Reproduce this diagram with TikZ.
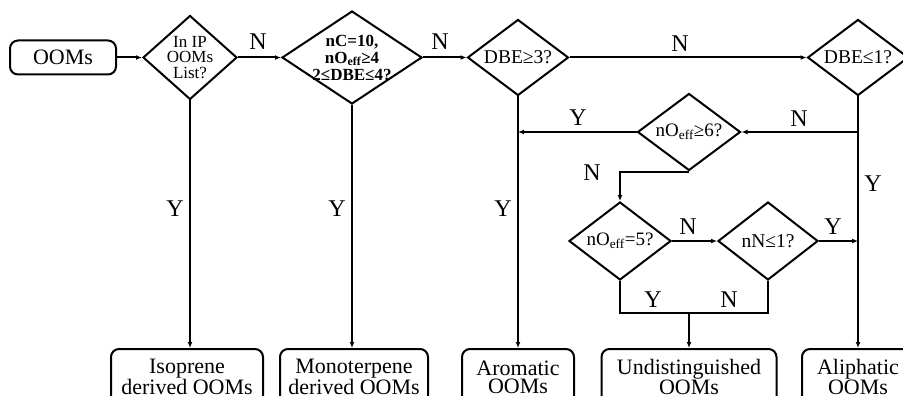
\documentclass[tikz,border=0pt]{standalone}
\usepackage{fontspec}
\setmainfont{Liberation Serif}
\usetikzlibrary{shapes.geometric,arrows.meta}
\begin{document}
\begin{tikzpicture}[x=1pt,y=-1pt,
  dia/.style={diamond,draw,line width=2pt,inner sep=0pt},
  dtext/.style={align=center,inner sep=0pt},
  rbox/.style={rectangle,draw,line width=2pt,rounded corners=8pt,inner sep=0pt,align=center,font=\fontsize{22}{18}\selectfont},
  conn/.style={line width=2pt},
  arr/.style={line width=2pt,-{Latex[length=6pt,width=5pt]}},
  lbl/.style={font=\fontsize{24}{24}\selectfont,inner sep=0pt}]
\useasboundingbox (0,0) rectangle (903,396);
\clip (0,0) rectangle (903,396);
% start box
\node[rbox,minimum width=106pt,minimum height=34pt] (ooms) at (63,57.5) {OOMs};
% diamonds (fixed size, text as centred label)
\node[dia,minimum width=94pt,minimum height=84pt,
  label={[dtext,font=\fontsize{17}{15.5}\selectfont]center:In IP\\OOMs\\List?}] (d1) at (190,57.5) {};
\node[dia,minimum width=140pt,minimum height=93pt,
  label={[dtext,font=\bfseries\fontsize{17}{17}\selectfont]center:nC=10,\\nO\textsubscript{eff}≥4\\2≤DBE≤4?}] (d2) at (352,57.5) {};
\node[dia,minimum width=101pt,minimum height=76pt,
  label={[dtext,font=\fontsize{19.5}{20}\selectfont]center:DBE≥3?}] (d3) at (518,57.5) {};
\node[dia,minimum width=101pt,minimum height=76pt,
  label={[dtext,font=\fontsize{19.5}{20}\selectfont]center:DBE≤1?}] (d4) at (858,57.5) {};
\node[dia,minimum width=103pt,minimum height=77pt,
  label={[dtext,font=\fontsize{19}{20}\selectfont]center:nO\textsubscript{eff}≥6?}] (d5) at (689,132) {};
\node[dia,minimum width=102pt,minimum height=78pt,
  label={[dtext,font=\fontsize{19}{20}\selectfont]center:nO\textsubscript{eff}=5?}] (d6) at (620,241) {};
\node[dia,minimum width=100pt,minimum height=78pt,
  label={[dtext,font=\fontsize{19.5}{20}\selectfont]center:nN≤1?}] (d7) at (768,241) {};
% outcome boxes
\node[rbox,minimum width=152pt,minimum height=56pt] (iso) at (187,377) {Isoprene\\derived OOMs};
\node[rbox,minimum width=148pt,minimum height=56pt] (mono) at (354,377) {Monoterpene\\derived OOMs};
\node[rbox,minimum width=112pt,minimum height=56pt] (aro) at (518,377) {Aromatic\\OOMs};
\node[rbox,minimum width=175pt,minimum height=56pt] (und) at (689,377) {Undistinguished\\OOMs};
\node[rbox,minimum width=112pt,minimum height=56pt] (ali) at (858,377) {Aliphatic\\OOMs};
% helper coordinates
\coordinate (j1) at (858,132);
\coordinate (j2) at (858,241);
\coordinate (j3) at (518,132);
\coordinate (m1) at (620,313);
\coordinate (m2) at (689,313);
% connectors
\draw[arr] (ooms.east) -- (d1.west);
\draw[arr] (d1.east) -- (d2.west);
\draw[arr] (d2.east) -- (d3.west);
\draw[arr] (d3.east) -- (d4.west);
\draw[arr] (d1.south) -- (d1.south |- iso.north);
\draw[arr] (d2.south) -- (d2.south |- mono.north);
\draw[arr] (d3.south) -- (aro.north);
\draw[arr] (d4.south) -- (ali.north);
\draw[arr] (j1) -- (d5.east);
\draw[arr] (d5.west) -- (j3);
\draw[arr] (d5.south) -| (d6.north);
\draw[arr] (d6.east) -- (d7.west);
\draw[arr] (d7.east) -- (j2);
\draw[conn] (d6.south) -- (m1) -| (d7.south);
\draw[arr] (m2) -- (und.north);
% labels
\node[lbl] (l1) at (258,42) {N};
\node[lbl] (l2) at (440,42) {N};
\node[lbl] (l3) at (680,44) {N};
\node[lbl] (l4) at (175,209) {Y};
\node[lbl] (l5) at (337,209) {Y};
\node[lbl] (l6) at (503,209) {Y};
\node[lbl] (l7) at (578,118) {Y};
\node[lbl] (l8) at (799,119) {N};
\node[lbl] (l9) at (873,184) {Y};
\node[lbl] (l10) at (592,173) {N};
\node[lbl] (l11) at (688,227) {N};
\node[lbl] (l12) at (833,227) {Y};
\node[lbl] (l13) at (653,300) {Y};
\node[lbl] (l14) at (729,300) {N};
\end{tikzpicture}
\end{document}
